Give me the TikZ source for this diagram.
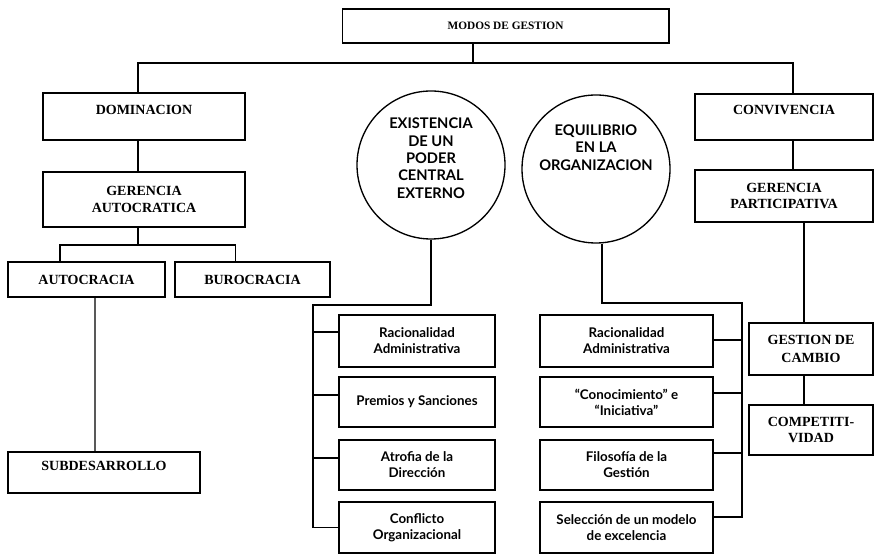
\documentclass[tikz,border=0pt]{standalone}
\usepackage{fontspec}
\setmainfont{Liberation Serif}
\newfontfamily\humanist{Lato}
\usepackage{tikz}

\begin{document}
\begin{tikzpicture}[x=0.75pt, y=-0.75pt, line width=1pt,
  capbox/.style={draw, rectangle, inner sep=0pt, align=center,
    font=\fontsize{10.5}{12.5}\selectfont\bfseries},
  topbox/.style={capbox, text height=7pt, text depth=10pt},
  smallbox/.style={draw, rectangle, inner sep=0pt, align=center,
    font=\humanist\fontsize{10}{12}\selectfont\bfseries},
  circ/.style={draw, circle, inner sep=0pt, minimum size=111pt, align=center,
    font=\humanist\fontsize{11}{13}\selectfont\bfseries}]

\useasboundingbox[fill=white] (0,0) rectangle (874,555);

% -------------------------
% Top level
% -------------------------
\node[capbox, minimum width=245pt, minimum height=25.5pt,
  font=\fontsize{8.5}{10}\selectfont\bfseries] (modos) at (505.5,26) {MODOS DE GESTION};

% -------------------------
% Left branch
% -------------------------
\node[topbox, minimum width=151.5pt, minimum height=35.25pt] (dom) at (144,116.5) {DOMINACION};
\node[capbox, minimum width=151.5pt, minimum height=41.25pt] (gauto) at (144,199.5) {GERENCIA\\AUTOCRATICA};
\node[capbox, minimum width=117.75pt, minimum height=26.25pt] (autoc) at (86.5,279.5) {AUTOCRACIA};
\node[capbox, minimum width=116.25pt, minimum height=26.25pt] (buro) at (252.5,279.5) {BUROCRACIA};
\node[topbox, minimum width=144pt, minimum height=30.75pt] (subd) at (104,472.5) {SUBDESARROLLO};

% -------------------------
% Circles
% -------------------------
\node[circ, text height=60pt, text depth=10pt] (exist) at (431,165) {EXISTENCIA\\DE UN\\PODER\\CENTRAL\\EXTERNO};
\node[circ, text height=34pt, text depth=32pt] (equil) at (596,169) {EQUILIBRIO\\EN LA\\ORGANIZACION};

% -------------------------
% Boxes under the circles
% -------------------------
\node[smallbox, minimum width=117pt, minimum height=39pt] (rac1) at (417,341) {Racionalidad\\Administrativa};
\node[smallbox, minimum width=117pt, minimum height=37.5pt] (prem) at (417,402) {Premios y Sanciones};
\node[smallbox, minimum width=117pt, minimum height=37.5pt] (atro) at (417,465) {Atrofia de la\\Dirección};
\node[smallbox, minimum width=117pt, minimum height=38.25pt] (conf) at (417,527.5) {Conflicto\\Organizacional};

\node[smallbox, minimum width=129.75pt, minimum height=39pt] (rac2) at (626.5,341) {Racionalidad\\Administrativa};
\node[smallbox, minimum width=129.75pt, minimum height=37.5pt] (conoc) at (626.5,402) {“Conocimiento” e\\“Iniciativa”};
\node[smallbox, minimum width=129.75pt, minimum height=37.5pt] (filo) at (626.5,465) {Filosofía de la\\Gestión};
\node[smallbox, minimum width=129.75pt, minimum height=38.25pt] (sel) at (626.5,527.5) {Selección de un modelo\\de excelencia};

% -------------------------
% Right branch
% -------------------------
\node[topbox, minimum width=133.5pt, minimum height=34.5pt] (conv) at (784,117) {CONVIVENCIA};
\node[capbox, minimum width=133.5pt, minimum height=39pt] (gpart) at (784,196) {GERENCIA\\PARTICIPATIVA};
\node[capbox, minimum width=93pt, minimum height=39pt,
  font=\fontsize{10.5}{14}\selectfont\bfseries] (gcam) at (811,349) {GESTION DE\\CAMBIO};
\node[capbox, minimum width=93pt, minimum height=37.5pt] (comp) at (811,430) {COMPETITI-\\VIDAD};

% -------------------------
% Connectors
% -------------------------
\coordinate (trunk) at (473,63);
\draw (modos.south -| trunk) -- (trunk);
\draw ([xshift=-4.5pt]dom.north) |- (trunk) -| ([xshift=6.75pt]conv.north);

\coordinate (split) at (138,245);
\draw ([xshift=-4.5pt]dom.south) -- ([xshift=-4.5pt]gauto.north);
\draw ([xshift=-4.5pt]gauto.south) -- (split);
\draw ([xshift=-20pt]autoc.north) |- (split) -| ([xshift=-13pt]buro.north);
\draw ([xshift=6.4pt]autoc.south) -- ([xshift=-6.75pt]subd.north);

\coordinate (lbus) at (313,305);
\draw (exist.south) |- (lbus) -- (conf.west -| lbus) -- (conf.west);
\foreach \n/\dy in {rac1/6.75, prem/5.25, atro/5.25}
  \draw ([yshift=\dy pt]\n.west -| lbus) -- ([yshift=\dy pt]\n.west);

\coordinate (rbus) at (742,303);
\draw ([xshift=4.5pt]equil.south) |- (rbus) -- ([yshift=7.9pt]sel.east -| rbus) -- ([yshift=7.9pt]sel.east);
\foreach \n/\dy in {rac2/0.75, conoc/6.75, filo/9}
  \draw ([yshift=\dy pt]\n.east -| rbus) -- ([yshift=\dy pt]\n.east);

\draw ([xshift=6.75pt]conv.south) -- ([xshift=6.75pt]gpart.north);
\draw ([xshift=-5.25pt]gcam.north) -- ([xshift=-5.25pt]gcam.north |- gpart.south);
\draw ([xshift=-5.25pt]gcam.south) -- ([xshift=-5.25pt]comp.north);

\end{tikzpicture}
\end{document}
